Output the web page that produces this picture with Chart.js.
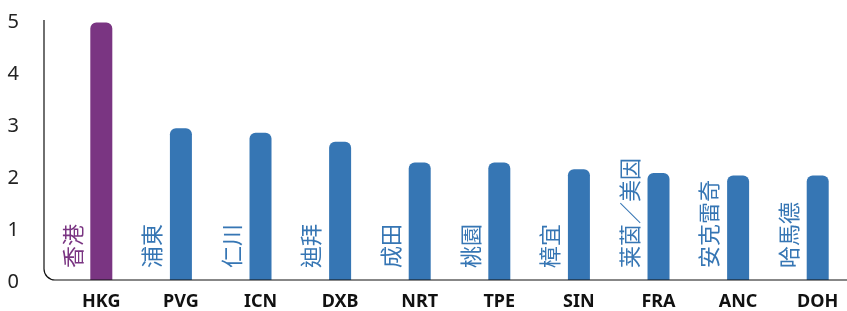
<!DOCTYPE html>
<html>
<head>
<meta charset="utf-8">
<script src="https://cdn.jsdelivr.net/npm/chart.js@4/dist/chart.umd.min.js"></script>
<style>
  html, body { margin: 0; padding: 0; background: #fff; }
  #wrap { width: 847px; height: 311px; }
</style>
</head>
<body>
<div id="wrap"><canvas id="chart" width="847" height="311"></canvas></div>
<script>
// airport codes, Chinese names and values
const codes = ['HKG', 'PVG', 'ICN', 'DXB', 'NRT', 'TPE', 'SIN', 'FRA', 'ANC', 'DOH'];
const names = ['香港', '浦東', '仁川', '迪拜', '成田', '桃園', '樟宜', '莱茵／美因', '安克雷奇', '哈馬德'];
const values = [4.95, 2.92, 2.83, 2.66, 2.26, 2.26, 2.13, 2.06, 2.01, 2.01];
const yTicks = [0, 1, 2, 3, 4, 5];

const PURPLE = '#7a3582';
const BLUE = '#3676b4';
const colors = codes.map((c, i) => i === 0 ? PURPLE : BLUE);

// rounded-corner axis line + rotated Chinese names beside each bar
const decorPlugin = {
  id: 'decor',
  afterDatasetsDraw(chart) {
    const { ctx, chartArea } = chart;
    const x0 = chartArea.left, yb = chartArea.bottom, r = 11;
    ctx.save();
    ctx.strokeStyle = '#111';
    ctx.lineWidth = 1.2;
    ctx.beginPath();
    ctx.moveTo(x0, chartArea.top);
    ctx.lineTo(x0, yb - r);
    ctx.arcTo(x0, yb, x0 + r, yb, r);
    ctx.lineTo(chart.width, yb);
    ctx.stroke();

    const meta = chart.getDatasetMeta(1);
    ctx.font = '22px "Noto Sans CJK TC", "Noto Sans CJK SC", sans-serif';
    ctx.textAlign = 'left';
    ctx.textBaseline = 'middle';
    meta.data.forEach((bar, i) => {
      ctx.save();
      ctx.translate(bar.x - 29, yb - 12);
      ctx.rotate(-Math.PI / 2);
      ctx.fillStyle = colors[i];
      ctx.fillText(names[i], 0, 0);
      ctx.restore();
    });
    ctx.restore();
  }
};

new Chart(document.getElementById('chart'), {
  type: 'bar',
  data: {
    labels: codes,
    datasets: [
      { label: 'space', data: codes.map(() => null) },
      {
        label: 'value',
        data: values,
        backgroundColor: colors,
        borderRadius: { topLeft: 6, topRight: 6, bottomLeft: 0, bottomRight: 0 },
        borderSkipped: 'start'
      }
    ]
  },
  options: {
    responsive: false,
    animation: false,
    devicePixelRatio: 1,
    categoryPercentage: 0.88,
    barPercentage: 0.628,
    layout: { padding: { top: 20, right: 7, left: 0, bottom: 0 } },
    plugins: { legend: { display: false }, tooltip: { enabled: false } },
    scales: {
      x: {
        grid: { display: false, drawTicks: false },
        border: { display: false },
        ticks: {
          color: '#111',
          font: { family: '"Noto Sans", sans-serif', size: 18, weight: 'bold' },
          labelOffset: 17.5,
          padding: 11,
          maxRotation: 0
        },
        afterFit(scale) { scale.height = 31; }
      },
      y: {
        min: 0,
        max: 5,
        afterBuildTicks(scale) { scale.ticks = yTicks.map(v => ({ value: v })); },
        grid: { display: false, drawTicks: false },
        border: { display: false },
        ticks: {
          color: '#222',
          font: { family: '"Noto Sans", sans-serif', size: 20 },
          padding: 25,
          labelOffset: 2
        },
        afterFit(scale) {
          scale.width = 44;
          scale.paddingTop = 0;
          scale.paddingBottom = 0;
        }
      }
    }
  },
  plugins: [decorPlugin]
});
</script>
</body>
</html>
